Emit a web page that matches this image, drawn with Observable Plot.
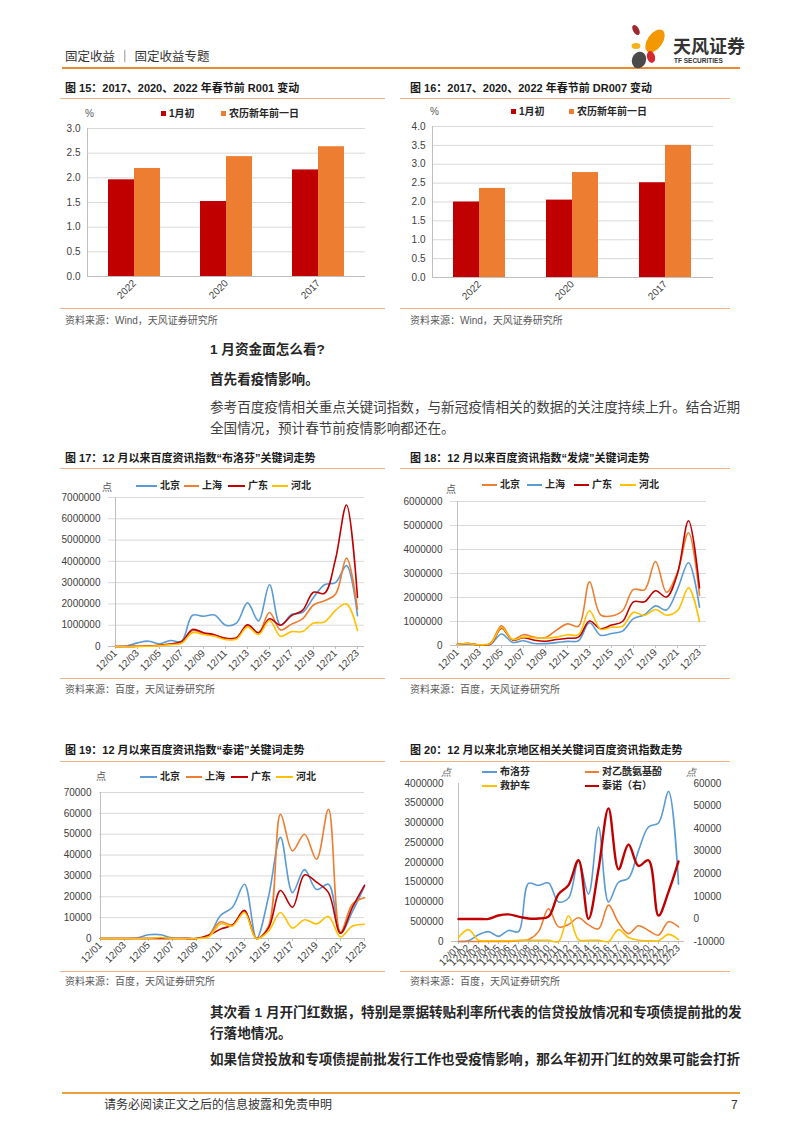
<!DOCTYPE html>
<html><head><meta charset="utf-8">
<script src="https://cdn.jsdelivr.net/npm/d3@7"></script>
<script src="https://cdn.jsdelivr.net/npm/@observablehq/plot@0.6"></script>
<style>
body{margin:0;background:#fff;}
#page{position:relative;width:802px;height:1133px;overflow:hidden;font-family:"Liberation Sans","Noto Sans CJK SC",sans-serif;color:#333;background:#fff;}
.abs{position:absolute;white-space:nowrap;}
.title{font-size:11px;color:#1a1a1a;font-weight:bold;line-height:14px;}
.src{font-size:10px;color:#595959;line-height:12px;}
.rule{position:absolute;height:1px;background:#F4B183;}
.body{font-size:13.6px;line-height:18px;color:#404040;letter-spacing:0;}
.bold{font-weight:bold;color:#262626;}
.leg{font-size:10px;font-weight:bold;color:#262626;line-height:12px;}
.unit{font-size:10px;color:#595959;line-height:12px;}
.chart{position:absolute;}
.chart svg{position:absolute;left:0;top:0;}
</style></head><body><div id="page"></div>
<script>
// ---------- data ----------
const days = ["12/01","12/02","12/03","12/04","12/05","12/06","12/07","12/08","12/09","12/10","12/11","12/12","12/13","12/14","12/15","12/16","12/17","12/18","12/19","12/20","12/21","12/22","12/23"];
const oddDays = ["12/01","12/03","12/05","12/07","12/09","12/11","12/13","12/15","12/17","12/19","12/21","12/23"];

const barYears = ["2022","2020","2017"];
const barSeries = ["1月初","农历新年前一日"];
const r001Jan = [1.96, 1.52, 2.16];
const r001Eve = [2.19, 2.43, 2.63];
const dr007Jan = [2.00, 2.05, 2.51];
const dr007Eve = [2.36, 2.78, 3.50];
const r001Ticks = [0, 0.5, 1.0, 1.5, 2.0, 2.5, 3.0];
const dr007Ticks = [0, 0.5, 1.0, 1.5, 2.0, 2.5, 3.0, 3.5, 4.0];

const cities = ["北京","上海","广东","河北"];
// 布洛芬
const bj17 = [0,20000,170000,250000,130000,280000,250000,1470000,1420000,1480000,1000000,1100000,2050000,1200000,2900000,1000000,1500000,1600000,2300000,2900000,3000000,3800000,1450000];
const sh17 = [0,0,10000,20000,60000,120000,200000,750000,620000,520000,400000,420000,1000000,650000,1600000,780000,1050000,1300000,1950000,2150000,2450000,4150000,1750000];
const gd17 = [0,0,10000,20000,60000,120000,220000,800000,650000,550000,380000,400000,1020000,650000,1300000,1000000,1450000,1700000,2550000,2500000,4100000,6650000,2300000];
const hb17 = [0,0,5000,10000,40000,90000,150000,650000,560000,480000,330000,350000,920000,560000,1220000,480000,700000,700000,1100000,1150000,1700000,2000000,750000];
const ticks17 = [0,1000000,2000000,3000000,4000000,5000000,6000000,7000000];
// 发烧
const bj18 = [50000,80000,30000,100000,820000,250000,450000,350000,330000,640000,900000,800000,2650000,1280000,1230000,1450000,2340000,2320000,3500000,2220000,3050000,4700000,2100000];
const sh18 = [50000,60000,20000,50000,480000,130000,200000,80000,80000,120000,170000,200000,950000,430000,500000,600000,1120000,1280000,1650000,1480000,2350000,3450000,1600000];
const gd18 = [50000,80000,30000,60000,720000,230000,320000,220000,180000,250000,300000,350000,1020000,700000,850000,1000000,1820000,1820000,2280000,2020000,3000000,5200000,2400000];
const hb18 = [50000,80000,30000,80000,750000,250000,350000,320000,300000,350000,450000,450000,1450000,680000,760000,800000,1380000,1250000,1500000,1260000,1450000,2400000,1000000];
const ticks18 = [0,1000000,2000000,3000000,4000000,5000000,6000000];
// 泰诺
const bj19 = [0,0,0,200,1800,1800,200,200,100,1500,11000,15000,26000,0,20000,48500,22000,33000,23500,26000,2500,13000,25000];
const sh19 = [0,0,0,0,0,0,0,0,0,1500,8000,6500,13000,0,6000,59500,42000,50000,38000,62000,3000,16500,19500];
const gd19 = [0,0,0,0,0,0,0,0,0,1500,4500,6500,13500,0,5000,23000,15000,30500,27000,22000,2500,15000,25500];
const hb19 = [0,0,0,0,0,500,0,0,0,800,7000,6000,12500,0,3500,12500,5000,9000,7000,10500,800,6000,6800];
const ticks19 = [0,10000,20000,30000,40000,50000,60000,70000];
// 北京地区
const names20 = ["布洛芬","对乙酰氨基酚","救护车","泰诺（右）"];
const ibuprofenBJ = [0,20000,170000,250000,130000,280000,250000,1470000,1420000,1480000,1000000,1100000,2050000,1200000,2900000,1000000,1500000,1600000,2300000,2900000,3000000,3800000,1450000];
const paracetamolBJ = [0,0,0,0,0,0,20000,50000,250000,830000,370000,430000,600000,420000,320000,920000,480000,200000,400000,280000,160000,500000,370000];
const ambulanceBJ = [100000,300000,30000,20000,20000,20000,30000,30000,30000,30000,0,650000,50000,30000,30000,0,300000,100000,30000,20000,20000,180000,50000];
const tylenolBJ = [0,0,0,0,1500,2000,1000,200,200,1000,11000,15000,26000,0,22000,49000,22000,33000,23500,26000,1500,12000,25500];
const ticks20L = [0,500000,1000000,1500000,2000000,2500000,3000000,3500000,4000000];
const ticks20R = [-10000,0,10000,20000,30000,40000,50000,60000];

const cityColors17 = ["#5B9BD5","#ED7D31","#C00000","#FFC000"];
const cityColors18 = ["#ED7D31","#5B9BD5","#C00000","#FFC000"];
const colors20 = ["#5B9BD5","#ED7D31","#FFC000","#C00000"];
const barColors = ["#C00000","#ED7D31"];

// ---------- helpers ----------
const page = document.getElementById("page");
function div(cls, left, top, html, extra) {
  const d = document.createElement("div");
  d.className = "abs " + cls;
  d.style.left = left + "px"; d.style.top = top + "px";
  d.innerHTML = html;
  if (extra) Object.assign(d.style, extra);
  page.appendChild(d);
  return d;
}
function rule(left, top, width, color, h) {
  const d = document.createElement("div");
  d.className = "rule";
  d.style.left = left + "px"; d.style.top = top + "px"; d.style.width = width + "px";
  if (color) d.style.background = color;
  if (h) d.style.height = h + "px";
  page.appendChild(d);
}
function holder(left, top, w, h) {
  const d = document.createElement("div");
  d.className = "chart";
  d.style.left = left + "px"; d.style.top = top + "px"; d.style.width = w + "px"; d.style.height = h + "px";
  page.appendChild(d);
  return d;
}
function legLine(x, y, w, color, label, sw) {
  const d = document.createElement("div");
  d.className = "abs"; d.style.left = x + "px"; d.style.top = (y - (sw||2)/2) + "px";
  d.style.width = w + "px"; d.style.height = (sw||2) + "px"; d.style.background = color;
  page.appendChild(d);
  div("leg", x + w + 3, y - 6, label);
}
function legSquare(x, y, color, label) {
  const d = document.createElement("div");
  d.className = "abs"; d.style.left = x + "px"; d.style.top = (y - 3) + "px";
  d.style.width = "5px"; d.style.height = "5px"; d.style.background = color;
  page.appendChild(d);
  div("leg", x + 8, y - 6, label);
}
const plotStyle = {fontFamily: '"Liberation Sans",Arial,sans-serif', fontSize: "10px", color: "#404040", background: "transparent", overflow: "visible"};
const fmtInt = d => String(Math.round(d));

function lineChart(o) {
  const marks = [];
  if (o.grid !== false) marks.push(Plot.gridY(o.yTicks, {stroke: "#D9D9D9", strokeOpacity: 1}));
  marks.push(
    Plot.ruleY([o.yDomain[0]], {stroke: "#BFBFBF"}),
    Plot.ruleX([days[0]], {stroke: "#BFBFBF"}),
    Plot.axisY(o.yTicks, {tickSize: 0, tickPadding: o.tp || 8, tickFormat: fmtInt, label: null}),
    Plot.axisX(o.xTicks, {tickRotate: -45, tickSize: 3, stroke: "#BFBFBF", tickPadding: 2, label: null})
  );
  if (o.extra) marks.push(...o.extra(o));
  for (const s of o.series) {
    marks.push(Plot.line(s.rows, {x: "day", y: "value", stroke: s.color, strokeWidth: s.sw || 1.6, curve: "catmull-rom"}));
  }
  return Plot.plot({
    width: o.width, height: o.height,
    marginLeft: o.ml, marginRight: o.mr, marginTop: o.mt, marginBottom: o.mb,
    style: plotStyle,
    x: {type: "point", domain: days, padding: 0, label: null},
    y: {domain: o.yDomain, label: null},
    marks
  });
}
function seriesList(names, arrays, colors, widths) {
  return names.map((n, k) => ({rows: arrays[k].map((v, i) => ({day: days[i], value: v})), color: colors[k], sw: widths ? widths[k] : 1.6}));
}

function barChart(o) {
  const rows = barYears.flatMap((y, i) => [
    {year: y, series: barSeries[0], value: o.jan[i]},
    {year: y, series: barSeries[1], value: o.eve[i]}
  ]);
  const common = {width: o.width, height: o.height, marginLeft: o.ml, marginRight: o.mr, marginTop: o.mt, marginBottom: o.mb, style: plotStyle};
  const bg = Plot.plot({
    ...common,
    x: {domain: [0, 1], axis: null},
    y: {domain: o.yDomain, label: null},
    marks: [
      Plot.gridY(o.yTicks, {stroke: "#D9D9D9", strokeOpacity: 1}),
      Plot.ruleY([0], {stroke: "#BFBFBF"}),
      Plot.ruleX([0], {stroke: "#BFBFBF"}),
      Plot.axisY(o.yTicks, {tickSize: 0, tickPadding: 7, tickFormat: d => d.toFixed(1), label: null})
    ]
  });
  const fg = Plot.plot({
    ...common,
    y: {domain: o.yDomain, axis: null, label: null},
    fx: {domain: barYears, paddingInner: 0.44, paddingOuter: 0.22, label: null},
    x: {domain: barSeries, padding: 0, axis: null},
    color: {domain: barSeries, range: barColors},
    marks: [
      Plot.barY(rows, {fx: "year", x: "series", y: "value", fill: "series"}),
      Plot.axisFx({anchor: "bottom", tickRotate: -45, tickSize: 0, tickPadding: 5, label: null})
    ]
  });
  return [bg, fg];
}

// ---------- header ----------
div("", 65, 49, "固定收益 ｜ 固定收益专题", {fontSize: "12.5px", color: "#333", lineHeight: "16px"});
rule(62, 67, 678, "#EE8A2E", 2);
(function logo() {
  const ns = "http://www.w3.org/2000/svg";
  const svg = document.createElementNS(ns, "svg");
  svg.setAttribute("width", 45); svg.setAttribute("height", 50);
  svg.style.position = "absolute"; svg.style.left = "626px"; svg.style.top = "22px";
  svg.innerHTML =
    '<ellipse cx="10" cy="8" rx="3" ry="5.5" fill="#A0282D" transform="rotate(-30 10 8)"/>' +
    '<ellipse cx="29" cy="19" rx="7.5" ry="13" fill="#F39800" transform="rotate(35 29 19)"/>' +
    '<ellipse cx="10" cy="24" rx="4.5" ry="3" fill="#F5B21B"/>' +
    '<ellipse cx="25" cy="35" rx="4" ry="6" fill="#D7282F" transform="rotate(-15 25 35)"/>' +
    '<ellipse cx="13" cy="38" rx="7" ry="8.5" fill="#4A4A4A" transform="rotate(20 13 38)"/>';
  page.appendChild(svg);
})();
div("", 673, 34, "天风证券", {fontSize: "18px", fontWeight: "bold", color: "#333", lineHeight: "22px", fontFamily: '"Noto Sans CJK SC",sans-serif'});
div("", 674, 57, "TF SECURITIES", {fontSize: "6.5px", fontWeight: "bold", color: "#333", lineHeight: "8px"});

// ---------- figure 15 / 16 ----------
div("title", 65, 81, "图 15：2017、2020、2022 年春节前 R001 变动");
rule(60, 98, 325);
div("title", 410, 81, "图 16：2017、2020、2022 年春节前 DR007 变动");
rule(400, 98, 330);
div("unit", 85, 108, "%");
legSquare(161, 114, barColors[0], barSeries[0]);
legSquare(221, 114, barColors[1], barSeries[1]);
div("unit", 430, 106, "%");
legSquare(511, 112, barColors[0], barSeries[0]);
legSquare(569, 112, barColors[1], barSeries[1]);
{
  const h = holder(55, 100, 320, 206);
  barChart({width: 320, height: 206, ml: 32, mr: 10, mt: 28, mb: 30, yDomain: [0, 3], yTicks: r001Ticks, jan: r001Jan, eve: r001Eve}).forEach(s => h.appendChild(s));
  const h2 = holder(395, 100, 330, 207);
  barChart({width: 330, height: 207, ml: 37, mr: 12, mt: 26, mb: 30, yDomain: [0, 4], yTicks: dr007Ticks, jan: dr007Jan, eve: dr007Eve}).forEach(s => h2.appendChild(s));
}
rule(60, 308, 325);
rule(400, 308, 330);
div("src", 65, 315, "资料来源：Wind，天风证券研究所");
div("src", 410, 315, "资料来源：Wind，天风证券研究所");

// ---------- body text 1 ----------
div("body bold", 210, 341, "1 月资金面怎么看?");
div("body bold", 210, 371, "首先看疫情影响。");
div("body", 210, 399, "参考百度疫情相关重点关键词指数，与新冠疫情相关的数据的关注度持续上升。结合近期");
div("body", 210, 420, "全国情况，预计春节前疫情影响都还在。");

// ---------- figure 17 / 18 ----------
div("title", 65, 451, "图 17：12 月以来百度资讯指数“布洛芬”关键词走势");
rule(60, 468, 325);
div("title", 410, 451, "图 18：12 月以来百度资讯指数“发烧”关键词走势");
rule(400, 468, 330);
div("unit", 102, 482, "点");
legLine(136, 486, 21, cityColors17[0], cities[0]);
legLine(184, 486, 15, cityColors17[1], cities[1]);
legLine(228, 486, 17, cityColors17[2], cities[2]);
legLine(272, 486, 16, cityColors17[3], cities[3]);
div("unit", 446, 484, "点");
legLine(482, 485, 15, cityColors18[0], cities[0]);
legLine(527, 485, 15, cityColors18[1], cities[1]);
legLine(574, 485, 15, cityColors18[2], cities[2]);
legLine(620, 485, 16, cityColors18[3], cities[3]);
holder(60, 470, 320, 216).appendChild(lineChart({
  width: 320, height: 216, ml: 48, mr: 16, mt: 27, mb: 40, yDomain: [0, 7000000], yTicks: ticks17, xTicks: oddDays,
  series: seriesList(cities, [bj17, sh17, gd17, hb17], cityColors17)
}));
holder(400, 470, 320, 215).appendChild(lineChart({
  width: 320, height: 215, ml: 50, mr: 14, mt: 31, mb: 40, yDomain: [0, 6000000], yTicks: ticks18, xTicks: oddDays,
  series: seriesList(cities, [bj18, sh18, gd18, hb18], cityColors18)
}));
rule(60, 678, 325);
rule(400, 678, 330);
div("src", 65, 684, "资料来源：百度，天风证券研究所");
div("src", 410, 684, "资料来源：百度，天风证券研究所");

// ---------- figure 19 / 20 ----------
div("title", 65, 743, "图 19：12 月以来百度资讯指数“泰诺”关键词走势");
rule(60, 761, 325);
div("title", 410, 743, "图 20：12 月以来北京地区相关关键词百度资讯指数走势");
rule(400, 761, 330);
div("unit", 96, 771, "点");
legLine(140, 777, 17, cityColors17[0], cities[0]);
legLine(186, 777, 16, cityColors17[1], cities[1]);
legLine(231, 777, 17, cityColors17[2], cities[2]);
legLine(276, 777, 17, cityColors17[3], cities[3]);
div("unit", 441, 767, "点", {fontStyle: "italic"});
div("unit", 686, 767, "点", {fontStyle: "italic"});
legLine(482, 772, 15, colors20[0], names20[0]);
legLine(585, 772, 14, colors20[1], names20[1]);
legLine(482, 786, 15, colors20[2], names20[2]);
legLine(585, 786, 14, colors20[3], names20[3]);
holder(55, 770, 325, 200).appendChild(lineChart({
  width: 325, height: 200, ml: 44, mr: 16, mt: 22, mb: 32, yDomain: [0, 70000], yTicks: ticks19, xTicks: oddDays,
  series: seriesList(cities, [bj19, sh19, gd19, hb19], cityColors17)
}));
{
  const L = [0, 4000000], R = [-10000, 60000];
  const toLeft = v => L[0] + (v - R[0]) / (R[1] - R[0]) * (L[1] - L[0]);
  const fromLeft = v => String(Math.round(R[0] + (v - L[0]) / (L[1] - L[0]) * (R[1] - R[0])));
  const s = seriesList(names20.slice(0, 3), [ibuprofenBJ, paracetamolBJ, ambulanceBJ], colors20.slice(0, 3));
  s.push({rows: tylenolBJ.map((v, i) => ({day: days[i], value: toLeft(v)})), color: colors20[3], sw: 2.4});
  holder(395, 770, 340, 201).appendChild(lineChart({
    width: 340, height: 201, ml: 56, mr: 51, mt: 13, mb: 30, yDomain: L, yTicks: ticks20L, xTicks: days, grid: false,
    series: s,
    extra: () => [Plot.axisY(ticks20R.map(toLeft), {anchor: "right", tickSize: 0, tickPadding: 9, tickFormat: fromLeft, label: null})]
  }));
}
rule(60, 971, 325);
rule(400, 971, 330);
div("src", 65, 976, "资料来源：百度，天风证券研究所");
div("src", 410, 976, "资料来源：百度，天风证券研究所");

// ---------- body text 2 ----------
div("body bold", 210, 1004, "其次看 1 月开门红数据，特别是票据转贴利率所代表的信贷投放情况和专项债提前批的发");
div("body bold", 210, 1025, "行落地情况。");
div("body bold", 210, 1051, "如果信贷投放和专项债提前批发行工作也受疫情影响，那么年初开门红的效果可能会打折");

// ---------- footer ----------
rule(62, 1092, 678, "#E9A23B", 2);
div("", 104, 1098, "请务必阅读正文之后的信息披露和免责申明", {fontSize: "12px", color: "#333", lineHeight: "15px"});
div("", 731, 1098, "7", {fontSize: "12px", color: "#333", lineHeight: "15px"});
</script></body></html>
